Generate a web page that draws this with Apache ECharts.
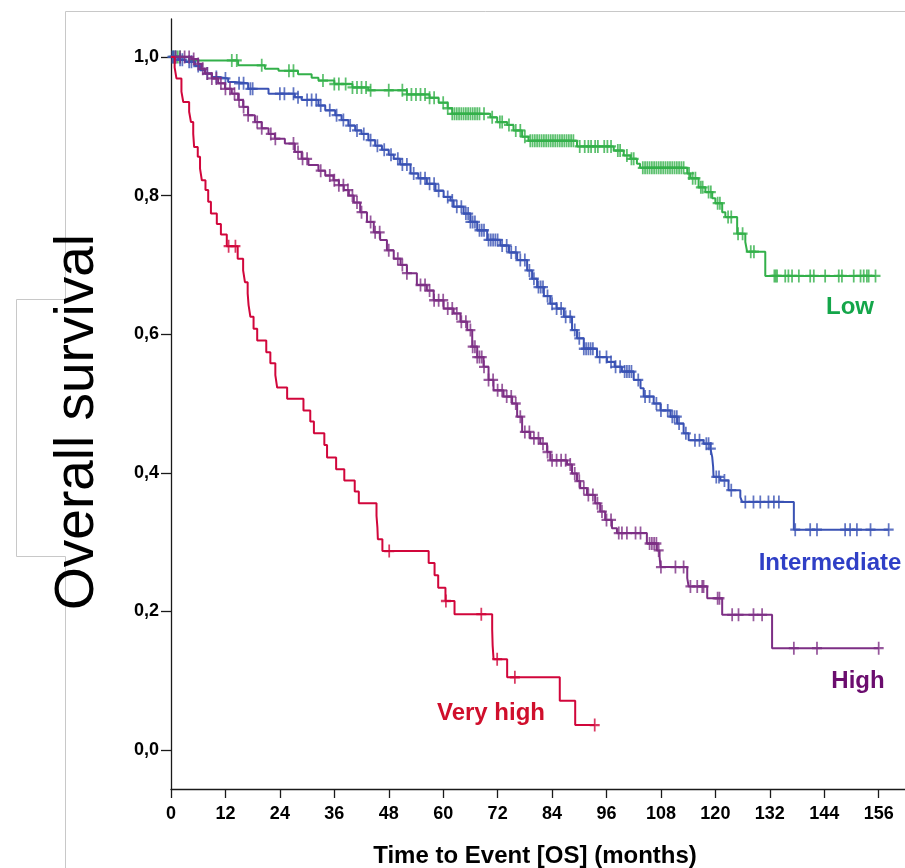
<!DOCTYPE html>
<html>
<head>
<meta charset="utf-8">
<title>Overall survival</title>
<script src="https://cdn.jsdelivr.net/npm/echarts@6.0.0/dist/echarts.min.js"></script>
<style>
  html, body { margin: 0; padding: 0; background: #fff; }
  #chartDiv { width: 905px; height: 868px; }
</style>
</head>
<body>
<div id="chartDiv"></div>
<script>
// 月份刻度 / 生存率刻度
var xTicks = [0, 12, 24, 36, 48, 60, 72, 84, 96, 108, 120, 132, 144, 156];
var yTicks = [0, 0.2, 0.4, 0.6, 0.8, 1.0];

// Low
var lowTimes = [0, 4, 14.8, 20.7, 23.7, 28, 31, 32.5, 36, 40, 43.5, 52, 57, 59, 61, 62, 70.4, 71.9, 74.1, 75.5,
    77.4, 78.8, 89.5, 97.6, 99.8, 101.3, 102.7, 103.4, 113.8, 114.5, 116.3, 117.8, 119.3, 120.0, 121.5,
    122.2, 124.8, 126.6, 127.0, 131.0];
var lowSurv = [1, 0.995, 0.988, 0.983, 0.980, 0.975, 0.970, 0.966, 0.961, 0.956, 0.952, 0.946, 0.941, 0.934,
    0.926, 0.918, 0.913, 0.906, 0.902, 0.894, 0.885, 0.879, 0.871, 0.865, 0.858, 0.853, 0.846, 0.840, 0.832,
    0.825, 0.812, 0.805, 0.796, 0.789, 0.776, 0.769, 0.745, 0.733, 0.719, 0.684];
var lowCensor = [0.5, 1, 1.5, 2, 13.4, 14.5, 20, 26, 27, 33.5, 36, 37, 38.5, 40, 41, 42, 43, 44, 48, 51, 52, 53,
    54, 55, 56, 57, 58, 60, 61, 62, 62.5, 63, 63.5, 64, 64.5, 65, 65.5, 66, 66.5, 67, 67.5, 68, 69, 70.8, 72.5,
    73, 74.5, 76, 77, 78, 79.2, 79.7, 80.2, 80.7, 81.2, 81.7, 82.2, 82.7, 83.2, 83.7, 84.2, 84.7, 85.2, 85.7,
    86.2, 86.7, 87.2, 87.7, 88.2, 88.7, 90.1, 91.2, 92, 92.6, 93.5, 94.1, 95.5, 96.2, 97, 98.5, 99, 100.5,
    101.5, 102, 104, 104.5, 105, 105.5, 106, 106.5, 107, 107.5, 108, 108.5, 109, 109.5, 110, 110.5, 111,
    111.5, 112, 112.5, 113, 114.2, 115, 115.6, 116.8, 117.2, 118.5, 119, 120.5, 121, 122.8, 123.5, 125, 126,
    127.8, 128.5, 133, 133.3, 133.6, 135.4, 136.1, 136.9, 138.4, 140.9, 141.7, 144.2, 147.2, 147.9, 150.5,
    152.0, 152.7, 153.4, 153.8, 155.3];

// Intermediate
var intTimes = [0, 1.6, 3.1, 5.3, 6.4, 7.5, 9.0, 10.4, 12.6, 14.1, 17.0, 21.5, 27.3, 28.8, 32.5, 34.0, 36.2,
    37.6, 39.1, 40.6, 42.0, 43.5, 45, 46.5, 48, 49.1, 50.5, 52.8, 54.5, 56.4, 58.3, 60.1, 61.6, 62.3, 64.5,
    66, 67.5, 69.7, 72.6, 74.5, 76.3, 78.5, 79.6, 80.7, 82.2, 83.6, 85, 86.6, 88.4, 89.5, 91.0, 93.9, 96.1,
    97.8, 99.4, 102.0, 103.5, 104.2, 106.4, 107.9, 110.1, 111.6, 113.0, 114.1, 117.4, 118.9, 119.3, 119.5,
    119.6, 121.1, 122.9, 125.5, 125.9, 137.3];
var intSurv = [1, 0.996, 0.993, 0.987, 0.981, 0.976, 0.971, 0.969, 0.964, 0.962, 0.954, 0.947, 0.942, 0.938,
    0.930, 0.923, 0.916, 0.909, 0.901, 0.894, 0.889, 0.880, 0.872, 0.866, 0.859, 0.853, 0.845, 0.832, 0.825,
    0.817, 0.807, 0.798, 0.793, 0.784, 0.774, 0.762, 0.750, 0.736, 0.728, 0.718, 0.707, 0.692, 0.680, 0.668,
    0.655, 0.644, 0.637, 0.625, 0.606, 0.594, 0.579, 0.567, 0.560, 0.553, 0.546, 0.534, 0.522, 0.510, 0.500,
    0.490, 0.481, 0.471, 0.457, 0.447, 0.442, 0.435, 0.423, 0.409, 0.394, 0.389, 0.375, 0.365, 0.358, 0.318];
var intCensor = [0.3, 0.6, 1, 2, 2.5, 4, 4.5, 6, 8, 10, 12, 15, 16, 17.5, 18, 24, 25, 27, 28, 30, 31, 32, 33,
    35, 36.5, 38, 39.5, 41, 42.5, 44, 45.5, 47, 48.5, 50, 51, 52, 53.5, 55, 56, 57, 58, 59, 61, 62, 63, 64, 65,
    65.5, 66, 66.5, 67, 68, 68.5, 69, 70, 70.5, 71, 71.5, 72, 73, 74, 75, 76, 77, 78, 79, 80, 81, 81.5, 82, 83,
    84, 85, 86, 87, 88, 89, 90, 91, 91.5, 92, 92.5, 93, 94.5, 96, 97, 98, 99, 100, 100.5, 101, 101.5, 103,
    104.5, 105.5, 107, 108, 109.5, 110.5, 111, 111.5, 112, 113.5, 115.5, 116.5, 118, 118.5, 119, 120.2, 120.8,
    122, 123.5, 126.6, 128.4, 129.9, 131.7, 132.9, 134.0, 137.6, 140.9, 142.4, 148.6, 149.7, 151.2, 154.2,
    158.2];

// High
var highTimes = [0, 4.5, 6.0, 6.7, 7.5, 9.0, 10.4, 11.9, 13.4, 14.8, 15.9, 17.0, 18.5, 20.0, 21.5, 22.9, 25.1,
    27.3, 28.8, 30.3, 32.5, 34, 35.8, 37, 38.1, 39.2, 40.3, 41.7, 43.2, 44.7, 46.1, 47.6, 49.1, 50.6, 52.0,
    54.2, 56.4, 57.9, 60.1, 62.3, 63.8, 65.3, 66.4, 67.5, 68.9, 70.0, 71.1, 73.3, 75.2, 76.3, 77.4, 79.2, 81.4,
    82.9, 83.6, 87.3, 88.4, 89.5, 90.2, 91.7, 93.5, 94.6, 95.7, 97.2, 98.3, 104.9, 107.1, 107.7, 107.9, 113.8,
    114.1, 118.2, 121.5, 132.5];
var highSurv = [1, 0.997, 0.990, 0.983, 0.976, 0.969, 0.962, 0.954, 0.947, 0.938, 0.928, 0.916, 0.906, 0.897,
    0.889, 0.882, 0.875, 0.863, 0.853, 0.844, 0.836, 0.829, 0.822, 0.815, 0.808, 0.800, 0.790, 0.776, 0.762,
    0.747, 0.736, 0.721, 0.709, 0.700, 0.688, 0.671, 0.663, 0.649, 0.637, 0.630, 0.618, 0.606, 0.582, 0.567,
    0.553, 0.534, 0.519, 0.510, 0.500, 0.481, 0.459, 0.450, 0.442, 0.430, 0.418, 0.412, 0.399, 0.388, 0.378,
    0.368, 0.356, 0.344, 0.332, 0.320, 0.313, 0.298, 0.288, 0.279, 0.264, 0.248, 0.236, 0.219, 0.195, 0.147];
var highCensor = [1, 2, 3, 4, 5, 6, 7, 8, 9, 10, 11, 12, 13, 14, 15, 16, 17, 19, 20, 22, 23, 27, 28, 29, 30, 33,
    35, 36, 37, 38, 39, 40, 41, 42, 44, 45, 46, 48, 50, 51, 52, 55, 56, 57, 58, 59, 60, 61, 62, 63, 64, 65, 66,
    66.5, 67, 67.5, 68, 68.5, 69, 70, 71, 72, 73, 74, 75, 76, 77, 78, 79, 80, 81, 82, 83, 84, 85, 86, 87, 88,
    89, 90, 91, 92, 93, 94, 95, 96, 97, 98.7, 99.4, 100.5, 102.4, 103.5, 105.5, 106, 106.5, 107, 107.5, 108,
    111.2, 113, 114.5, 116, 117.1, 117.4, 120.5, 120.9, 123.7, 125.1, 128.4, 130.3, 137.3, 142.4, 156.0];

// Very high
var vhTimes = [0, 0.8, 1.2, 2.3, 2.7, 4.0, 4.4, 4.9, 5.1, 5.9, 6.4, 6.8, 7.6, 8.2, 8.8, 10.1, 11.0, 12.3, 14.7,
    15.9, 16.3, 16.9, 17.1, 17.5, 18.2, 19.0, 21.0, 21.9, 23.0, 23.4, 25.6, 29.2, 30.7, 31.5, 33.8, 34.4, 36.4,
    38.2, 40.5, 41.4, 45.3, 45.5, 45.6, 46.6, 56.8, 58.1, 58.9, 60.5, 62.5, 70.8, 70.9, 71.1, 74.1, 85.7, 89.1];
var vhSurv = [1, 0.985, 0.969, 0.950, 0.935, 0.921, 0.906, 0.889, 0.870, 0.856, 0.839, 0.822, 0.808, 0.791,
    0.774, 0.759, 0.744, 0.727, 0.709, 0.692, 0.675, 0.659, 0.642, 0.625, 0.608, 0.591, 0.574, 0.558, 0.541,
    0.523, 0.507, 0.490, 0.474, 0.457, 0.440, 0.422, 0.405, 0.389, 0.373, 0.356, 0.338, 0.321, 0.304, 0.287,
    0.270, 0.252, 0.234, 0.215, 0.196, 0.174, 0.151, 0.131, 0.105, 0.071, 0.036];
var vhCensor = [12.7, 14.2, 48.1, 60.6, 68.4, 71.9, 75.8, 93.4];

var fontName = "'Liberation Sans', Arial, sans-serif";
var censorMark = 'path://M0,6L12,6M6,0L6,12';

// 阶梯线的拐点
function stepPoints(times, surv, censor) {
    var pts = [[times[0], surv[0]]];
    for (var i = 1; i < times.length; i++) {
        pts.push([times[i], surv[i - 1]]);
        pts.push([times[i], surv[i]]);
    }
    var end = Math.max(times[times.length - 1], censor[censor.length - 1]);
    pts.push([end, surv[surv.length - 1]]);
    return pts;
}

function survAt(times, surv, t) {
    var s = surv[0];
    for (var i = 0; i < times.length; i++) {
        if (times[i] <= t) s = surv[i];
    }
    return s;
}

function censorPoints(times, surv, censor) {
    return censor.map(function (t) { return [t, survAt(times, surv, t)]; });
}

function groupSeries(name, times, surv, censor, color, z) {
    return [
        {
            type: 'line',
            name: name,
            data: stepPoints(times, surv, censor),
            symbol: 'none',
            lineStyle: {color: color, width: 2},
            itemStyle: {color: color},
            z: z,
            silent: true
        },
        {
            type: 'scatter',
            name: name,
            data: censorPoints(times, surv, censor),
            symbol: censorMark,
            symbolSize: [10, 13],
            symbolKeepAspect: false,
            itemStyle: {color: color, borderColor: color, borderWidth: 2},
            z: z,
            silent: true
        }
    ];
}

var chartDiv = echarts.init(document.getElementById('chartDiv'));

var axisColor = '#1a1a1a';
var option = {
    animation: false,
    backgroundColor: '#fff',
    grid: {left: 171, right: 0, top: 19, bottom: 79, containLabel: false},
    xAxis: {
        type: 'value',
        min: 0,
        max: 161.8,
        axisLine: {show: true, onZero: false, lineStyle: {color: axisColor, width: 1.3}},
        axisTick: {show: true, length: 9, customValues: xTicks, lineStyle: {color: axisColor, width: 1.3}},
        axisLabel: {
            customValues: xTicks,
            margin: 16,
            fontSize: 18,
            fontWeight: 'bold',
            fontFamily: fontName,
            color: '#000'
        },
        splitLine: {show: false}
    },
    yAxis: {
        type: 'value',
        min: -0.05625,
        max: 1.0548,
        axisLine: {show: true, onZero: false, lineStyle: {color: axisColor, width: 1.3}},
        axisTick: {show: true, length: 10, customValues: yTicks, lineStyle: {color: axisColor, width: 1.3}},
        axisLabel: {
            customValues: yTicks,
            margin: 12,
            fontSize: 18,
            fontWeight: 'bold',
            fontFamily: fontName,
            color: '#000',
            formatter: function (v) { return v.toFixed(1).replace('.', ','); }
        },
        splitLine: {show: false}
    },
    graphic: [
        // 外框线
        {
            type: 'polyline',
            silent: true,
            shape: {points: [[905, 11.5], [65.5, 11.5], [65.5, 299.5], [16.5, 299.5], [16.5, 556.5],
                [65.5, 556.5], [65.5, 868]]},
            style: {stroke: '#c8c8c8', lineWidth: 1, fill: null},
            z: -10
        },
        {
            type: 'text', x: 78, y: 422, rotation: Math.PI / 2, silent: true, z: 10,
            style: {text: 'Overall survival', font: '55px ' + fontName, fill: '#000',
                textAlign: 'center', textVerticalAlign: 'middle', align: 'center', verticalAlign: 'middle'}
        },
        {
            type: 'text', x: 535, y: 856, silent: true,
            style: {text: 'Time to Event [OS] (months)', font: 'bold 24px ' + fontName, fill: '#000',
                textAlign: 'center', textVerticalAlign: 'middle', align: 'center', verticalAlign: 'middle'}
        },
        {
            type: 'text', x: 850, y: 307, silent: true,
            style: {text: 'Low', font: 'bold 24px ' + fontName, fill: '#14a64a',
                textAlign: 'center', textVerticalAlign: 'middle', align: 'center', verticalAlign: 'middle'}
        },
        {
            type: 'text', x: 830, y: 563, silent: true,
            style: {text: 'Intermediate', font: 'bold 24px ' + fontName, fill: '#2f3fc6',
                textAlign: 'center', textVerticalAlign: 'middle', align: 'center', verticalAlign: 'middle'}
        },
        {
            type: 'text', x: 858, y: 681, silent: true,
            style: {text: 'High', font: 'bold 24px ' + fontName, fill: '#6b0d6e',
                textAlign: 'center', textVerticalAlign: 'middle', align: 'center', verticalAlign: 'middle'}
        },
        {
            type: 'text', x: 491, y: 713, silent: true,
            style: {text: 'Very high', font: 'bold 24px ' + fontName, fill: '#d00f2c',
                textAlign: 'center', textVerticalAlign: 'middle', align: 'center', verticalAlign: 'middle'}
        }
    ],
    series: []
        .concat(groupSeries('Low', lowTimes, lowSurv, lowCensor, '#33b04a', 2))
        .concat(groupSeries('Intermediate', intTimes, intSurv, intCensor, '#3a52b4', 3))
        .concat(groupSeries('High', highTimes, highSurv, highCensor, '#7d2f85', 4))
        .concat(groupSeries('Very high', vhTimes, vhSurv, vhCensor, '#d1063b', 5))
};

chartDiv.setOption(option);
</script>
</body>
</html>
